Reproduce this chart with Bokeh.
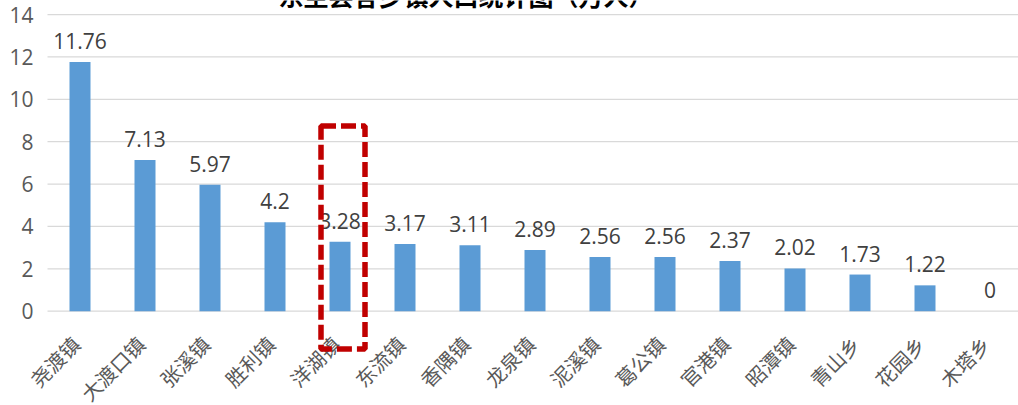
import math
from bokeh.plotting import figure
from bokeh.models import Range1d, ColumnDataSource
from bokeh.core.properties import value
from bokeh.embed import file_html
from bokeh.resources import INLINE

title_text = "东至县各乡镇人口统计图（万人）"
towns = ["尧渡镇", "大渡口镇", "张溪镇", "胜利镇", "洋湖镇", "东流镇", "香隅镇", "龙泉镇",
         "泥溪镇", "葛公镇", "官港镇", "昭潭镇", "青山乡", "花园乡", "木塔乡"]
population = [11.76, 7.13, 5.97, 4.2, 3.28, 3.17, 3.11, 2.89, 2.56, 2.56, 2.37, 2.02, 1.73, 1.22, 0]
y_ticks = [0, 2, 4, 6, 8, 10, 12, 14]
highlight = "洋湖镇"

W, H = 1018, 405
left_px = 47.0        # left edge of plot area
cat_px = 65.0         # width of one category
zero_px = 310.7       # pixel row of value 0
unit_px = 21.19       # pixels per unit

x0 = -left_px / cat_px
x1 = (W - left_px) / cat_px
y1 = zero_px / unit_px
y0 = -(H - zero_px) / unit_px

p = figure(width=W, height=H, output_backend="svg", toolbar_location=None,
           x_range=Range1d(x0, x1), y_range=Range1d(y0, y1),
           min_border=0, min_border_left=0, min_border_right=0,
           min_border_top=0, min_border_bottom=0)
p.axis.visible = False
p.grid.visible = False
p.outline_line_color = None
p.background_fill_color = "white"
p.border_fill_color = "white"

xs = [i + 0.5 for i in range(len(towns))]
src = ColumnDataSource(dict(x=xs, top=population, town=towns,
                            lbl=[("%g" % v) for v in population]))

# gridlines
p.segment(x0=[0] * len(y_ticks), x1=[x1] * len(y_ticks), y0=y_ticks, y1=y_ticks,
          line_color="#D9D9D9", line_width=1.3)

# y tick labels
p.text(x=[0] * len(y_ticks), y=y_ticks, text=[str(t) for t in y_ticks],
       x_offset=-14, text_align="right", text_baseline="middle",
       text_font=value("Open Sans"), text_font_size="21px", text_color="#595959")

# bars
p.vbar(x="x", top="top", bottom=0, width=21 / cat_px, source=src,
       fill_color="#5B9BD5", line_color=None)

# value labels
p.text(x="x", y="top", text="lbl", source=src, y_offset=-21,
       text_align="center", text_baseline="alphabetic",
       text_font=value("Open Sans"), text_font_size="21px", text_color="#404040")

# category labels (rotated)
p.text(x="x", y=0, text="town", source=src, x_offset=-4, y_offset=29,
       angle=math.pi / 4, text_align="right", text_baseline="middle",
       text_font=value("Noto Sans CJK SC"), text_font_size="20px", text_color="#595959")

# highlight box around 洋湖镇
hi = towns.index(highlight)
hv = population[hi]
p.quad(left=[hi + 0.5 - 19 / cat_px], right=[hi + 0.5 + 25 / cat_px],
       top=[hv + 5.46], bottom=[-1.78],
       fill_color=None, line_color="#C00000", line_width=5.5, line_dash="15 5")

# title (only its lower edge is visible in the window)
p.text(x=[x0 + 278 / cat_px], y=[y1], text=[title_text], y_offset=-6,
       text_align="left", text_baseline="alphabetic",
       text_font=value("Noto Sans CJK SC"), text_font_style="bold",
       text_font_size="25px", text_color="#000000")

open("out.html", "w").write(file_html(p, INLINE))
